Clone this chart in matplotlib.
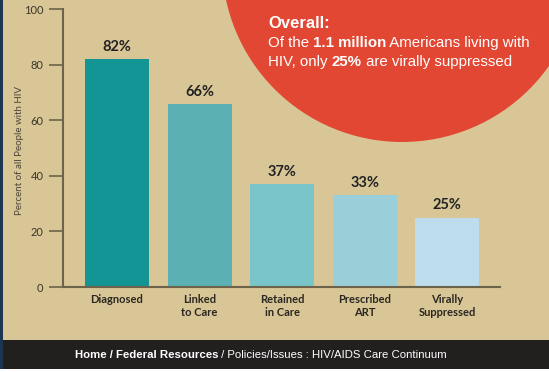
import matplotlib
matplotlib.use("Agg")
import matplotlib.pyplot as plt
from matplotlib.patches import Circle, Rectangle

# data
etapas = ["Diagnosed", "Linked\nto Care", "Retained\nin Care", "Prescribed\nART", "Virally\nSuppressed"]
valores = [82, 66, 37, 33, 25]
rotulos = ["82%", "66%", "37%", "33%", "25%"]
cores = ["#139595", "#5ab0b2", "#79c5c9", "#9acfd9", "#bddcec"]
yticks = [0, 20, 40, 60, 80, 100]

FUNDO = "#d8c697"
VERMELHO = "#e24733"
TEXTO = "#3a3526"

W, H = 549, 372
fig = plt.figure(figsize=(W / 100, H / 100), dpi=100)
fig.patch.set_facecolor(FUNDO)

# camada de fundo em pixels (circulo, rodape, borda)
bg = fig.add_axes([0, 0, 1, 1], zorder=0)
bg.set_xlim(0, W)
bg.set_ylim(H, 0)
bg.axis("off")
bg.add_patch(Circle((402, -38), 180, color=VERMELHO, lw=0))
bg.add_patch(Rectangle((0, 340), W, 29, color="#221f1f", lw=0))
bg.add_patch(Rectangle((0, 369), W, 3, color="white", lw=0))
bg.add_patch(Rectangle((0, 0), 2.5, 369, color="#1c3550", lw=0))

# texto do circulo
f_circ = ["Liberation Sans", "DejaVu Sans"]
bg.text(268, 31, "Overall:", color="white", fontsize=12, fontweight="bold",
        family=f_circ, va="bottom")
t = bg.text(268, 50, "Of the ", color="white", fontsize=10.8, family=f_circ, va="bottom")
t = bg.annotate("1.1 million", xy=(1, 0), xycoords=t, color="white", fontsize=10.8,
                fontweight="bold", family=f_circ, va="bottom")
bg.annotate(" Americans living with", xy=(1, 0), xycoords=t, color="white",
            fontsize=10.8, family=f_circ, va="bottom")
t = bg.text(268, 69, "HIV, only ", color="white", fontsize=10.8, family=f_circ, va="bottom")
t = bg.annotate("25%", xy=(1, 0), xycoords=t, color="white", fontsize=10.8,
                fontweight="bold", family=f_circ, va="bottom")
bg.annotate(" are virally suppressed", xy=(1, 0), xycoords=t, color="white",
            fontsize=10.8, family=f_circ, va="bottom")

# rodape
t = bg.text(75, 355, "Home / Federal Resources", color="white", fontsize=8.2,
            fontweight="bold", family=f_circ, va="center")
bg.annotate(" / Policies/Issues : HIV/AIDS Care Continuum", xy=(1, 0.5), xycoords=t,
            color="white", fontsize=8.2, family=f_circ, va="center")

# grafico
ax = fig.add_axes([63 / W, 1 - 287 / H, (500 - 63) / W, 278 / H], zorder=1)
ax.set_facecolor("none")
x = range(len(valores))
barras = ax.bar(x, valores, width=0.775, color=cores, zorder=2)
for b, r in zip(barras, rotulos):
    ax.text(b.get_x() + b.get_width() / 2, b.get_height() + 1.8, r, ha="center",
            va="bottom", fontsize=10.5, fontweight="bold", color="#222222", family="Lato")

ax.set_xlim(-0.654, 4.637)
ax.set_ylim(0, 100)
ax.set_yticks(yticks)
ax.set_yticklabels([str(v) for v in yticks], family="Lato", fontsize=8, color=TEXTO)
ax.set_xticks(list(x))
ax.set_xticklabels(etapas, family="Lato", fontsize=8, fontweight="bold",
                   color="#2a2720", linespacing=1.2)
ax.tick_params(axis="x", length=0, pad=5)
ax.tick_params(axis="y", length=10, width=1.2, color="#6d624a", pad=4)
for lado in ["top", "right"]:
    ax.spines[lado].set_visible(False)
for lado in ["left", "bottom"]:
    ax.spines[lado].set_color("#6d624a")
    ax.spines[lado].set_linewidth(1.5)
ax.set_ylabel("Percent of all People with HIV", family="Lato", fontsize=7,
              color="#4a4535")
ax.yaxis.set_label_coords(-0.089, 0.49)

fig.savefig("out.png", dpi=100, facecolor=FUNDO)
